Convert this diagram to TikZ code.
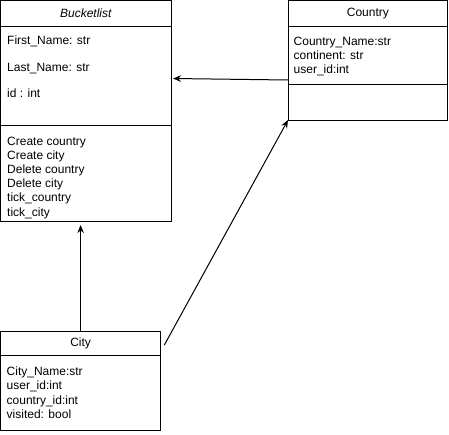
\documentclass[tikz,border=0pt]{standalone}
\usepackage{fontspec}
\setmainfont{Liberation Sans}
\usepackage{tikz}
\usetikzlibrary{arrows.meta, positioning}
\tikzstyle{umlbox} = [rectangle, draw=black, line width=1pt, outer sep=0pt, inner sep=0pt]
\tikzstyle{classname} = [umlbox, font=\fontsize{12}{14.2}\selectfont]
\tikzstyle{members} = [align=left, inner sep=0pt, anchor=north west, font=\fontsize{12}{14.2}\selectfont]
\tikzstyle{arrow} = [line width=1pt, -{Stealth[length=8pt, width=6.5pt]}]

\begin{document}
\begin{tikzpicture}[x=1pt, y=1pt]
\useasboundingbox (0,0) rectangle (449,-434);

% Bucketlist
\node (blhead) [classname, minimum width=170.5pt, minimum height=25.5pt, anchor=north west] at (0.5,-0.5) {\itshape Bucketlist};
\node (blattr) [umlbox, minimum width=170.5pt, minimum height=99pt, below=0pt of blhead] {};
\node (blops) [umlbox, minimum width=170.5pt, minimum height=96pt, below=0pt of blattr] {};
\node (blattrtxt) [members, below right=9.7pt and 6.5pt of blattr.north west] {First\_Name: str\\[12.5pt]Last\_Name: str\\[12.5pt]id : int};
\node (blopstxt) [members, below right=11.5pt and 6.5pt of blops.north west] {Create country\\Create city\\Delete country\\Delete city\\tick\_country\\tick\_city};

% Country
\node (chead) [classname, minimum width=159.7pt, minimum height=25.5pt, anchor=north west] at (288,-0.5) {Country};
\node (cattr) [umlbox, minimum width=159.7pt, minimum height=58pt, below=0pt of chead] {};
\node (cops) [umlbox, minimum width=159.7pt, minimum height=36pt, below=0pt of cattr] {};
\node (cattrtxt) [members, below right=11pt and 5.5pt of cattr.north west] {Country\_Name:str\\continent: str\\user\_id:int};

% City
\node (cityhead) [classname, minimum width=160.2pt, minimum height=24.5pt, anchor=north west] at (0.5,-331) {City};
\node (cityattr) [umlbox, minimum width=160.2pt, minimum height=74.5pt, below=0pt of cityhead] {};
\node (cityattrtxt) [members, below right=11.3pt and 6pt of cityattr.north west] {City\_Name:str\\user\_id:int\\country\_id:int\\visited: bool};

\draw [arrow] ([yshift=4pt]cattr.south west) -- ([xshift=2pt, yshift=-3pt]blattr.east);
\draw [arrow] (cityhead.north) -- ([yshift=-4pt]cityhead.north |- blops.south);
\draw [arrow] ([xshift=3.5pt, yshift=-2pt]cityhead.east) -- (cops.south west);

\end{tikzpicture}
\end{document}
